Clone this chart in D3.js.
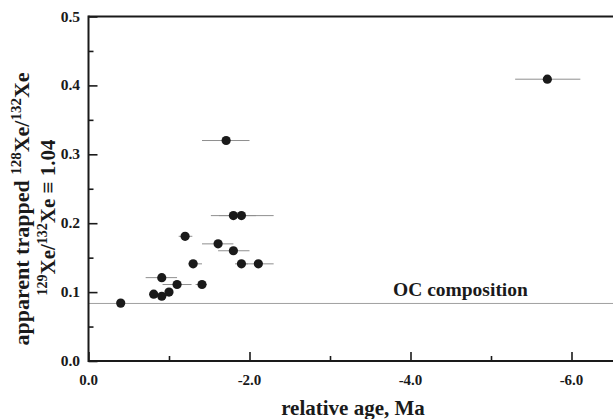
<!DOCTYPE html>
<html>
<head>
<meta charset="utf-8">
<script src="https://cdn.jsdelivr.net/npm/d3@7/dist/d3.min.js"></script>
<style>
  html, body { margin: 0; padding: 0; background: #fff; }
  svg { display: block; }
  text { font-family: "Liberation Serif", "Times New Roman", serif; font-weight: bold; fill: #1a1a1a; }
</style>
</head>
<body>
<svg id="chart" width="613" height="419"></svg>
<script>
// ---- data ----
const ages      = [-0.40, -0.81, -0.91, -0.91, -1.00, -1.10, -1.20, -1.30, -1.41, -1.61, -1.71, -1.80, -1.90, -1.80, -1.90, -2.11, -5.70];
const ratios    = [0.084, 0.097, 0.094, 0.121, 0.100, 0.111, 0.181, 0.141, 0.111, 0.170, 0.320, 0.211, 0.211, 0.160, 0.141, 0.141, 0.409];
const ageErrLo  = [-0.40, -0.81, -0.91, -0.71, -1.00, -0.92, -1.12, -1.24, -1.33, -1.41, -1.41, -1.52, -1.62, -1.61, -1.82, -1.92, -5.30];
const ageErrHi  = [-0.40, -0.81, -0.91, -1.10, -1.00, -1.28, -1.29, -1.41, -1.47, -1.80, -2.00, -2.08, -2.30, -2.00, -1.98, -2.30, -6.11];
const ocComposition = 0.0835;
const xMajorTicks = [0, -2, -4, -6];
const xMinorTicks = [-1, -3, -5];
const yMajorTicks = [0, 0.1, 0.2, 0.3, 0.4, 0.5];
const yMinorTicks = [0.05, 0.15, 0.25, 0.35, 0.45];
const xTickLabels = ["0.0", "-2.0", "-4.0", "-6.0"];
const yTickLabels = ["0.0", "0.1", "0.2", "0.3", "0.4", "0.5"];

const svg = d3.select("#chart");
const plotLeft = 88.5, plotTop = 16.5, plotBottom = 361;
const x = d3.scaleLinear().domain([0, -6.6]).range([plotLeft, plotLeft + 6.6 * 80.5]);
const y = d3.scaleLinear().domain([0, 0.5]).range([plotBottom, plotTop]);

const axisColor = "#1a1a1a";

// OC composition line
svg.append("line")
  .attr("x1", x(0)).attr("x2", x(-6.6))
  .attr("y1", y(ocComposition)).attr("y2", y(ocComposition))
  .attr("stroke", "#a0a0a0").attr("stroke-width", 1);
svg.append("text")
  .attr("x", 393).attr("y", 296)
  .attr("font-size", 19.5)
  .text("OC composition");

// error bars
const pts = ages.map((a, i) => ({a, r: ratios[i], lo: ageErrLo[i], hi: ageErrHi[i]}));
svg.append("g").selectAll("line").data(pts.filter(d => d.lo !== d.hi)).join("line")
  .attr("x1", d => x(d.lo)).attr("x2", d => x(d.hi))
  .attr("y1", d => y(d.r)).attr("y2", d => y(d.r))
  .attr("stroke", "#8f8f8f").attr("stroke-width", 1);

// points
svg.append("g").selectAll("circle").data(pts).join("circle")
  .attr("cx", d => x(d.a)).attr("cy", d => y(d.r)).attr("r", 4.6)
  .attr("fill", "#1a1a1a");

// axes: inward ticks
const xAxis = d3.axisTop(x).tickValues(xMajorTicks).tickSize(9).tickFormat("");
const xAxisMinor = d3.axisTop(x).tickValues(xMinorTicks).tickSize(5).tickFormat("");
const yAxis = d3.axisRight(y).tickValues(yMajorTicks).tickSize(9).tickFormat("");
const yAxisMinor = d3.axisRight(y).tickValues(yMinorTicks).tickSize(5).tickFormat("");

[xAxis, xAxisMinor].forEach(ax => {
  const g = svg.append("g").attr("transform", `translate(0,${plotBottom})`).call(ax);
  g.select(".domain").remove();
  g.selectAll("line").attr("stroke", axisColor).attr("stroke-width", 1.6);
});
[yAxis, yAxisMinor].forEach(ax => {
  const g = svg.append("g").attr("transform", `translate(${plotLeft},0)`).call(ax);
  g.select(".domain").remove();
  g.selectAll("line").attr("stroke", axisColor).attr("stroke-width", 1.6);
});

// frame lines
svg.append("line").attr("x1", plotLeft).attr("x2", x(-6.6)).attr("y1", plotBottom).attr("y2", plotBottom)
  .attr("stroke", axisColor).attr("stroke-width", 2);
svg.append("line").attr("x1", plotLeft).attr("x2", x(-6.6)).attr("y1", plotTop).attr("y2", plotTop)
  .attr("stroke", axisColor).attr("stroke-width", 2);
svg.append("line").attr("x1", plotLeft).attr("x2", plotLeft).attr("y1", plotTop - 1).attr("y2", plotBottom + 1)
  .attr("stroke", axisColor).attr("stroke-width", 2);

// tick labels
svg.append("g").selectAll("text").data(xMajorTicks).join("text")
  .attr("x", d => x(d)).attr("y", 385)
  .attr("text-anchor", "middle").attr("font-size", 15)
  .text((d, i) => xTickLabels[i]);
svg.append("g").selectAll("text").data(yMajorTicks).join("text")
  .attr("x", 80).attr("y", d => y(d) + 5)
  .attr("text-anchor", "end").attr("font-size", 15.5)
  .text((d, i) => yTickLabels[i]);

// x title
svg.append("text").attr("x", 353).attr("y", 415).attr("text-anchor", "middle")
  .attr("font-size", 21).text("relative age, Ma");

// y title (two lines)
const t1 = svg.append("text").attr("transform", "translate(29,209) rotate(-90)")
  .attr("text-anchor", "middle").attr("font-size", 22);
t1.append("tspan").text("apparent trapped ");
t1.append("tspan").attr("font-size", 15).attr("dy", -8).text("128");
t1.append("tspan").attr("dy", 8).text("Xe/");
t1.append("tspan").attr("font-size", 15).attr("dy", -8).text("132");
t1.append("tspan").attr("dy", 8).text("Xe");

const t2 = svg.append("text").attr("transform", "translate(55,217.5) rotate(-90)")
  .attr("text-anchor", "middle").attr("font-size", 21);
t2.append("tspan").attr("font-size", 14).attr("dy", -8).text("129");
t2.append("tspan").attr("dy", 8).text("Xe/");
t2.append("tspan").attr("font-size", 14).attr("dy", -8).text("132");
t2.append("tspan").attr("dy", 8).text("Xe \u2261 1.04");
</script>
</body>
</html>
